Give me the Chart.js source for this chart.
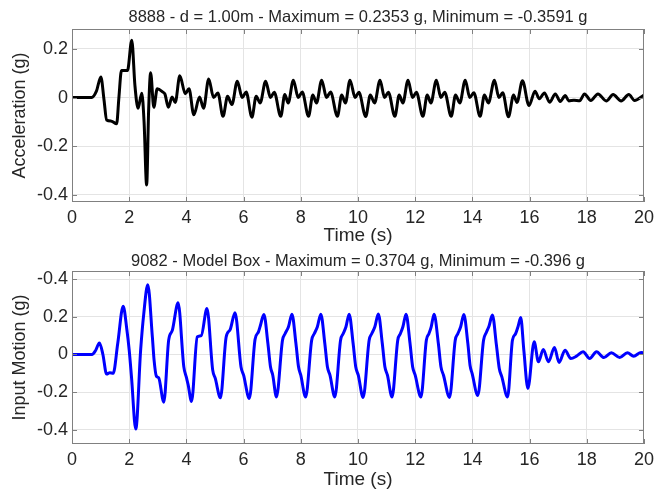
<!DOCTYPE html>
<html>
<head>
<meta charset="utf-8">
<script src="https://cdn.jsdelivr.net/npm/chart.js@4.4.1/dist/chart.umd.min.js"></script>
<style>
  html, body { margin: 0; padding: 0; background: #fff; }
  .panel { position: absolute; left: 0; width: 659px; }
  #top { top: 0; height: 245px; }
  #bottom { top: 245px; height: 246px; }
</style>
</head>
<body>
<div class="panel" id="top"><canvas id="accChart"></canvas></div>
<div class="panel" id="bottom"><canvas id="inputChart"></canvas></div>
<script>
// ---- data ----
const timeTicks = [0, 2, 4, 6, 8, 10, 12, 14, 16, 18, 20];

const accTicks = [-0.4, -0.2, 0, 0.2];
const accTickLabels = ['-0.4', '-0.2', '0', '0.2'];
// the original figure labels the top tick "-0.4"
const inputTicks = [-0.4, -0.2, 0, 0.2, 0.4];
const inputTickLabels = ['-0.4', '-0.2', '0', '0.2', '-0.4'];

const accTime = [0, 0.69, 0.85, 1.01, 1.12, 1.21, 1.38, 1.56, 1.64, 1.73, 1.94, 2.09, 2.2, 2.31, 2.44, 2.52, 2.61, 2.68, 2.75, 2.86,
  2.98, 3.18, 3.25, 3.37, 3.5, 3.61, 3.77, 3.96, 4.09, 4.26, 4.46, 4.6, 4.78, 4.95, 5.1, 5.28, 5.44, 5.59, 5.78, 5.95,
  6.09, 6.29, 6.44, 6.58, 6.77, 6.94, 7.07, 7.3, 7.44, 7.56, 7.74, 7.91, 8.05, 8.27, 8.42, 8.55, 8.73, 8.9, 9.04, 9.28,
  9.43, 9.56, 9.72, 9.9, 10.03, 10.27, 10.43, 10.58, 10.77, 10.93, 11.06, 11.29, 11.44, 11.57, 11.75, 11.91, 12.04, 12.27, 12.42, 12.55,
  12.74, 12.9, 13.03, 13.26, 13.41, 13.56, 13.75, 13.91, 14.05, 14.27, 14.42, 14.56, 14.77, 14.93, 15.06, 15.26, 15.44, 15.56, 15.75, 15.98,
  16.19, 16.34, 16.52, 16.7, 16.9, 17.07, 17.25, 17.37, 17.55, 17.75, 17.92, 18.14, 18.39, 18.68, 18.92, 19.2, 19.47, 19.67, 20];
const accValue = [0, 0, 0.025, 0.084, -0.01, -0.092, -0.097, -0.108, 0.0, 0.111, 0.111, 0.2353, 0.05, -0.044, 0.018, -0.1, -0.3591, -0.05, 0.102, -0.04,
  0.036, 0.022, 0.014, -0.04, 0.002, -0.02, 0.089, 0.016, 0.036, -0.071, 0.002, -0.044, 0.076, 0.0, 0.019, -0.077, 0.005, -0.029, 0.067, 0.0,
  0.023, -0.081, 0.005, -0.022, 0.067, 0.0, 0.022, -0.077, 0.012, -0.022, 0.071, 0.0, 0.023, -0.077, 0.01, -0.022, 0.071, 0.0, 0.023, -0.077,
  0.01, -0.022, 0.071, 0.0, 0.022, -0.078, 0.01, -0.022, 0.071, 0.0, 0.022, -0.077, 0.01, -0.022, 0.071, 0.0, 0.022, -0.077, 0.01, -0.022,
  0.071, 0.0, 0.022, -0.077, 0.01, -0.022, 0.071, 0.0, 0.02, -0.077, 0.01, -0.022, 0.071, 0.0, 0.02, -0.079, 0.01, -0.02, 0.069, -0.033,
  0.026, -0.005, 0.019, -0.019, 0.015, -0.016, 0.008, -0.014, -0.011, -0.013, 0.015, -0.012, 0.015, -0.014, 0.012, -0.014, 0.012, -0.012, 0.01];

const inputTime = [0, 0.7, 0.82, 0.96, 1.08, 1.21, 1.32, 1.44, 1.6, 1.79, 1.92, 2.0, 2.08, 2.23, 2.4, 2.51, 2.65, 2.81, 2.87, 2.95,
  3.03, 3.21, 3.38, 3.51, 3.71, 3.91, 4.0, 4.06, 4.18, 4.38, 4.52, 4.72, 4.92, 5.01, 5.19, 5.39, 5.53, 5.7, 5.91, 6.0,
  6.2, 6.4, 6.52, 6.58, 6.71, 6.85, 6.94, 7.02, 7.15, 7.36, 7.45, 7.57, 7.69, 7.83, 7.92, 8.0, 8.17, 8.38, 8.47, 8.58,
  8.7, 8.84, 8.93, 9.02, 9.19, 9.39, 9.48, 9.58, 9.69, 9.83, 9.92, 10.01, 10.18, 10.39, 10.48, 10.59, 10.71, 10.85, 10.94, 11.03,
  11.19, 11.39, 11.48, 11.57, 11.68, 11.82, 11.91, 12.0, 12.2, 12.39, 12.48, 12.56, 12.66, 12.81, 12.9, 12.99, 13.2, 13.4, 13.49, 13.59,
  13.7, 13.84, 13.92, 13.99, 14.19, 14.39, 14.49, 14.58, 14.7, 14.84, 14.94, 15.03, 15.23, 15.4, 15.51, 15.6, 15.69, 15.8, 15.94, 16.16,
  16.31, 16.48, 16.66, 16.87, 17.03, 17.24, 17.44, 17.64, 17.87, 18.1, 18.34, 18.6, 18.86, 19.15, 19.42, 19.64, 19.9, 20];
const inputValue = [0, 0, 0.02, 0.061, 0.0, -0.104, -0.097, -0.1, 0.06, 0.256, 0.13, 0.023, -0.119, -0.396, 0.023, 0.217, 0.3704, 0.093, -0.03, -0.115,
  -0.123, -0.253, 0.076, 0.129, 0.274, -0.066, -0.122, -0.16, -0.249, 0.093, 0.1, 0.244, -0.083, -0.127, -0.23, 0.093, 0.132, 0.221, -0.066, -0.11,
  -0.233, 0.08, 0.12, 0.15, 0.212, 0.058, -0.065, -0.11, -0.225, 0.076, 0.11, 0.147, 0.214, 0.058, -0.065, -0.11, -0.226, 0.076, 0.11, 0.147,
  0.214, 0.058, -0.065, -0.11, -0.225, 0.076, 0.11, 0.147, 0.214, 0.058, -0.065, -0.11, -0.228, 0.076, 0.11, 0.147, 0.215, 0.058, -0.065, -0.11,
  -0.226, 0.076, 0.11, 0.147, 0.214, 0.058, -0.065, -0.11, -0.226, 0.076, 0.11, 0.147, 0.214, 0.058, -0.065, -0.11, -0.228, 0.076, 0.11, 0.147,
  0.212, 0.06, -0.06, -0.1, -0.218, 0.076, 0.118, 0.15, 0.209, 0.05, -0.074, -0.119, -0.226, 0.076, 0.11, 0.15, 0.196, 0.02, -0.18, 0.067,
  -0.039, 0.027, -0.039, 0.037, -0.042, 0.023, -0.021, -0.009, 0.014, -0.021, 0.014, -0.016, 0.009, -0.016, 0.009, -0.009, 0.011, 0.008];

// ---- styling ----
const FONT = "'Liberation Sans', Arial, sans-serif";
const TEXT = '#262626';
const BOX = '#808080';
const GRID = '#e4e4e4';

// box round the axes + small ticks inside, like matlab
const boxPlugin = {
  id: 'axbox',
  afterDatasetsDraw(chart) {
    const { ctx, chartArea: a, scales } = chart;
    const tl = 5;
    ctx.save();
    ctx.strokeStyle = BOX;
    ctx.lineWidth = 1;
    ctx.strokeRect(a.left + 0.5, a.top + 0.5, a.width - 1, a.height - 1);
    ctx.beginPath();
    scales.x.ticks.forEach(t => {
      const px = Math.round(scales.x.getPixelForValue(t.value)) + 0.5;
      ctx.moveTo(px, a.bottom); ctx.lineTo(px, a.bottom - tl);
      ctx.moveTo(px, a.top); ctx.lineTo(px, a.top + tl);
    });
    scales.y.ticks.forEach(t => {
      const py = Math.round(scales.y.getPixelForValue(t.value)) + 0.5;
      ctx.moveTo(a.left, py); ctx.lineTo(a.left + tl, py);
      ctx.moveTo(a.right, py); ctx.lineTo(a.right - tl, py);
    });
    ctx.stroke();
    ctx.restore();
  }
};

function makeChart(id, opts) {
  const ctx = document.getElementById(id).getContext('2d');
  const points = opts.time.map((t, i) => ({ x: t, y: opts.values[i] }));
  return new Chart(ctx, {
    type: 'line',
    data: {
      datasets: [{
        data: points,
        borderColor: opts.color,
        borderWidth: 3,
        pointRadius: 0,
        fill: false,
        cubicInterpolationMode: 'monotone'
      }]
    },
    options: {
      responsive: true,
      maintainAspectRatio: false,
      animation: false,
      events: [],
      layout: { padding: { left: 0, right: 13, top: 0, bottom: 0 } },
      plugins: {
        legend: { display: false },
        tooltip: { enabled: false },
        title: {
          display: true,
          fullSize: false, // centre over the axes, not the canvas
          text: opts.title,
          color: TEXT,
          font: { family: FONT, size: 16.5, weight: 'normal', lineHeight: 1 },
          padding: opts.titlePad
        }
      },
      scales: {
        x: {
          type: 'linear',
          min: 0,
          max: 20,
          afterBuildTicks: s => { s.ticks = timeTicks.map(v => ({ value: v })); },
          afterFit: s => { s.height = opts.xHeight; },
          grid: { color: GRID, drawTicks: false },
          border: { display: false },
          ticks: { color: TEXT, padding: 5, maxRotation: 0, font: { family: FONT, size: 18 } },
          title: {
            display: true,
            text: 'Time (s)',
            color: TEXT,
            font: { family: FONT, size: 19, lineHeight: 1 },
            padding: { top: 0, bottom: opts.xTitleBottom }
          }
        },
        y: {
          type: 'linear',
          min: opts.yMin,
          max: opts.yMax,
          afterBuildTicks: s => { s.ticks = opts.yTicks.map(v => ({ value: v })); },
          afterFit: s => { s.width = 72; },
          grid: { color: GRID, drawTicks: false },
          border: { display: false },
          ticks: {
            color: TEXT,
            padding: 4,
            font: { family: FONT, size: 18 },
            callback: (value, index) => opts.yTickLabels[index]
          },
          title: {
            display: true,
            text: opts.yLabel,
            color: TEXT,
            font: { family: FONT, size: 18, lineHeight: 1 },
            padding: { top: 11, bottom: 0 }
          }
        }
      }
    },
    plugins: [boxPlugin]
  });
}

const accChart = makeChart('accChart', {
  title: '8888 - d = 1.00m - Maximum = 0.2353 g, Minimum = -0.3591 g',
  yLabel: 'Acceleration (g)',
  time: accTime,
  values: accValue,
  color: '#000000',
  yMin: -0.429,
  yMax: 0.2815,
  yTicks: accTicks,
  yTickLabels: accTickLabels,
  titlePad: { top: 9.5, bottom: 3 },
  xHeight: 43,
  xTitleBottom: 0
});

const inputChart = makeChart('inputChart', {
  title: '9082 - Model Box - Maximum = 0.3704 g, Minimum = -0.396 g',
  yLabel: 'Input Motion (g)',
  time: inputTime,
  values: inputValue,
  color: '#0000ff',
  yMin: -0.475,
  yMax: 0.443,
  yTicks: inputTicks,
  yTickLabels: inputTickLabels,
  titlePad: { top: 8, bottom: 1.5 },
  xHeight: 47,
  xTitleBottom: 2
});
</script>
</body>
</html>
